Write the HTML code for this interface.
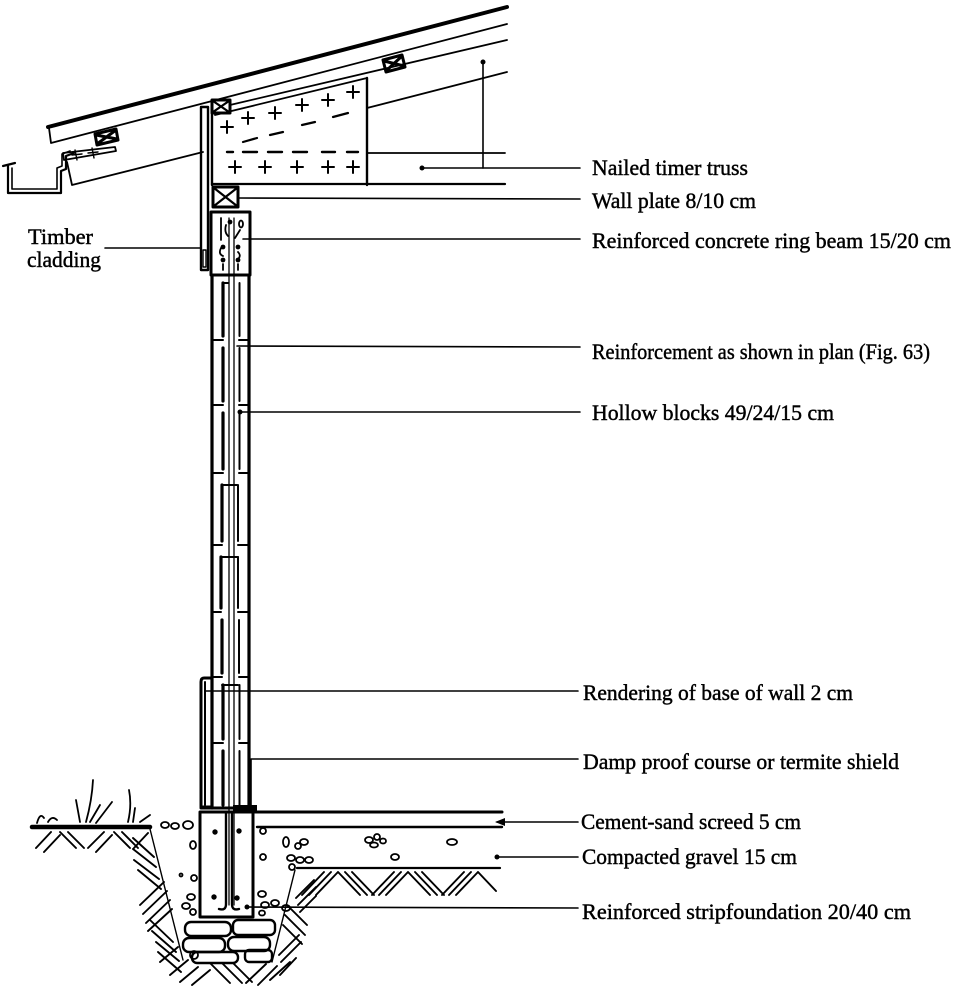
<!DOCTYPE html>
<html><head><meta charset="utf-8">
<style>
html,body{margin:0;padding:0;background:#fff;}
svg{display:block;}
text{font-family:"Liberation Serif",serif;font-size:22px;fill:#000;stroke:#000;stroke-width:0.45;}
</style></head><body>
<svg width="958" height="987" viewBox="0 0 958 987" xmlns="http://www.w3.org/2000/svg">
<rect x="0" y="0" width="958" height="987" fill="#fff"/>
<g fill="none" stroke="#000" stroke-linecap="round" stroke-linejoin="round">
<!-- ROOF -->
<line x1="48" y1="127" x2="507" y2="7" stroke-width="4"/>
<path d="M49,128 L51,143 L507,24" stroke-width="1.8"/>
<line x1="230" y1="105" x2="507" y2="40" stroke-width="1.8"/>
<line x1="367" y1="108" x2="507" y2="72" stroke-width="1.8"/>
<!-- lath + rafter tail -->
<path d="M63,153 L115,147 L116,151 L64,160 Z" stroke-width="1.8"/>
<path d="M75,150 L77,160 M72,155 L82,154 M92,148 L94,158 M88,153 L98,152" stroke-width="1.4"/>
<path d="M67,162 L72,185 L203,152" stroke-width="1.8"/>
<!-- gutter -->
<path d="M3,166 L15,163 M8,166 L8,193 L61,193 L61,171 L66,169 L66,156 L74,153" stroke-width="2.2"/>
<path d="M12,168 L12,189 L57,189 L57,168 L62,166 L62,154 L70,151" stroke-width="1.6"/>
<!-- batten boxes -->
<path d="M95,134 L116,129 L118,140 L97,145 Z M96,135 L117,139 M116,130 L97,144" stroke-width="3"/>
<path d="M383,60 L402,55 L405,67 L386,72 Z M384,61 L404,66 M402,56 L386,71" stroke-width="3"/>
<rect x="212" y="100" width="18" height="13" stroke-width="3"/>
<path d="M213,101 L229,112 M229,101 L213,112" stroke-width="2.2"/>
<!-- TRUSS -->
<line x1="215" y1="115" x2="367" y2="78" stroke-width="1.8"/>
<line x1="367" y1="78" x2="367" y2="185" stroke-width="2.4"/>
<line x1="212" y1="184" x2="505" y2="184" stroke-width="2.2"/>
<line x1="367" y1="153" x2="505" y2="153" stroke-width="1.8"/>
<path d="M221,127 h12 M227,121 v12 M242,118 h12 M248,112 v12 M269,113 h12 M275,107 v12 M296,105 h12 M302,99 v12 M322,100 h12 M328,94 v12 M347,92 h12 M353,86 v12" stroke-width="2"/>
<path d="M229,167 h12 M235,161 v12 M259,167 h12 M265,161 v12 M291,167 h12 M297,161 v12 M322,167 h12 M328,161 v12 M347,167 h12 M353,161 v12" stroke-width="2"/>
<path d="M227,152 h6 M243,152 h14 M268,152 h14 M293,152 h14 M322,152 h13 M347,152 h11" stroke-width="2.4"/>
<path d="M243,142 L257,138 M270,135 L283,132 M302,125 L315,122 M333,117 L348,113" stroke-width="2.2"/>
<!-- cladding -->
<rect x="201" y="107" width="7" height="163" stroke-width="2.4"/>
<rect x="203" y="250" width="3" height="17" stroke-width="1.4"/>
<line x1="212" y1="107" x2="212" y2="185" stroke-width="2.4"/>
<!-- wall plate -->
<rect x="213" y="187" width="25" height="20" stroke-width="3"/>
<path d="M214,188 L237,206 M237,188 L214,206" stroke-width="2.2"/>
<!-- ring beam -->
<rect x="211" y="212" width="39" height="63" stroke-width="3"/>
<path d="M221,218 V240 M226,225 Q224,232 228,236 M235,238 L240,230 M221,248 Q218,254 223,256 M238,252 Q242,256 237,260 M223,264 v6 M238,264 v6" stroke-width="1.8"/>
<ellipse cx="241" cy="224" rx="2" ry="3.5" stroke-width="1.8"/>
<!-- WALL -->
<line x1="212" y1="275" x2="212" y2="808" stroke-width="3.2"/>
<line x1="249" y1="275" x2="249" y2="808" stroke-width="3.2"/>
<path d="M229,218 V905 M234,218 V905" stroke-width="1.3"/>
<path d="M223,283 V336 M223,348 V401 M223,413 V469 M222,485 V541 M221,557 V608 M222,620 V673 M223,685 V739 M223,751 V805" stroke-width="3.2"/>
<path d="M239.5,283 V336 M239.5,348 V401 M239.5,413 V469 M238,485 V541 M238,557 V608 M239,620 V673 M239.5,685 V739 M239.5,751 V805" stroke-width="2"/>
<path d="M213,340 H223 M239,340 H248 M213,405 H223 M239,405 H248 M213,473 H223 M239,473 H248 M213,545 H222 M238,545 H248 M213,612 H221 M238,612 H248 M213,677 H222 M239,677 H248 M213,743 H223 M239,743 H248" stroke-width="2"/>
<path d="M223,283 H228 M223,485 H237 M221,557 H238 M222,685 H238" stroke-width="2"/>
<!-- rendering -->
<path d="M211,678 L204,678 Q201,678 201,682 L201,807 L211,807" stroke-width="3"/>
<line x1="205" y1="682" x2="205" y2="805" stroke-width="2"/>
<line x1="201" y1="808" x2="249" y2="808" stroke-width="3"/>
<!-- FOUNDATION -->
<rect x="200" y="812" width="53" height="105" stroke-width="3"/>
<path d="M226,812 V904 Q226,911 219,909 M232,812 V904 Q232,911 239,909" stroke-width="2.4"/>
<!-- screed / gravel -->
<line x1="253" y1="812" x2="502" y2="812" stroke-width="3"/>
<line x1="257" y1="827" x2="502" y2="827" stroke-width="2.4"/>
<line x1="297" y1="868" x2="500" y2="868" stroke-width="2.2"/>
<!-- ground -->
<line x1="32" y1="827" x2="150" y2="827" stroke-width="4.5"/>
<line x1="150" y1="829" x2="183" y2="960" stroke-width="1.4"/>
<line x1="295" y1="870" x2="272" y2="962" stroke-width="1.4"/>
<!-- grass -->
<path d="M37,823 Q40,812 44,818 M48,822 Q52,815 57,820 M80,822 L76,800 M86,822 Q92,800 93,780 M90,822 L100,805 M96,823 L112,802 M128,822 Q132,805 129,790 M133,822 L135,808 M140,822 L150,815" stroke-width="1.8"/>
<!-- hatching left ground -->
<path d="M36,848 L51,832 M44,852 L60,835 M60,832 L76,848 M68,832 L84,848 M88,848 L104,832 M96,852 L112,835 M114,832 L130,848 M122,832 L138,848 M134,848 L148,833" stroke-width="1.9"/>
<!-- trench left hatching -->
<path d="M133,838 L154,857 M133,849 L156,867 M134,860 L159,879 M138,870 L161,889 M140,905 L164,882 M143,914 L167,891 M146,923 L170,900 M148,931 L172,909 M150,920 L173,942 M152,931 L176,952 M156,942 L179,961 M158,952 L181,972 M160,962 L178,947" stroke-width="1.9"/>
<!-- trench bottom hatching -->
<path d="M170,975 L188,960 M180,982 L198,967 M192,985 L210,970 M210,963 L230,983 M222,963 L242,983 M234,964 L252,982 M246,983 L266,964 M258,985 L277,966 M270,980 L290,962 M280,975 L296,958" stroke-width="1.9"/>
<!-- trench right hatching -->
<path d="M296,898 L314,880 M298,905 L316,887 M300,912 L316,896 M287,905 L307,925 M285,915 L305,935 M283,925 L302,944 M279,955 L299,935 M281,962 L301,942" stroke-width="1.9"/>
<!-- hatching under gravel -->
<path d="M302,895 L324,872 M309,895 L331,872 M316,895 L338,872 M338,872 L360,895 M345,872 L367,895 M352,872 L374,895 M372,895 L394,872 M379,895 L401,872 M386,895 L408,872 M408,872 L430,895 M415,872 L437,895 M422,872 L444,895 M442,895 L464,872 M449,895 L471,872 M456,895 L478,872 M478,872 L496,891" stroke-width="1.9"/>
<!-- stones -->
<rect x="185" y="922" width="46" height="14" rx="6" stroke-width="2.4"/>
<rect x="233" y="920" width="42" height="15" rx="5" stroke-width="2.4"/>
<rect x="183" y="938" width="42" height="14" rx="6" stroke-width="2.4"/>
<rect x="228" y="937" width="42" height="14" rx="6" stroke-width="2.4"/>
<rect x="192" y="952" width="46" height="11" rx="5" stroke-width="2.4"/>
<rect x="245" y="950" width="27" height="12" rx="4" stroke-width="2.4"/>
<circle cx="194" cy="955" r="4" stroke-width="1.8"/>
<!-- pebbles -->
<g stroke-width="1.8">
<ellipse cx="165" cy="825" rx="4" ry="3"/><ellipse cx="175" cy="826" rx="4" ry="3"/><ellipse cx="188" cy="825" rx="5" ry="4"/>
<ellipse cx="193" cy="845" rx="3" ry="4"/><ellipse cx="194" cy="878" rx="3" ry="3"/><circle cx="181" cy="875" r="1.5"/>
<ellipse cx="191" cy="897" rx="4" ry="3"/><ellipse cx="186" cy="906" rx="4" ry="3"/><ellipse cx="193" cy="912" rx="3" ry="3"/>
<ellipse cx="263" cy="831" rx="3" ry="3"/><ellipse cx="263" cy="857" rx="3" ry="3"/><ellipse cx="262" cy="894" rx="4" ry="3"/>
<ellipse cx="265" cy="905" rx="4" ry="3"/><ellipse cx="275" cy="903" rx="4" ry="3"/><ellipse cx="286" cy="908" rx="4" ry="3"/><ellipse cx="262" cy="913" rx="3" ry="2.5"/>
<ellipse cx="286" cy="842" rx="3" ry="5"/><ellipse cx="298" cy="846" rx="3" ry="3"/><ellipse cx="304" cy="842" rx="4" ry="3"/>
<ellipse cx="291" cy="858" rx="4" ry="3"/><ellipse cx="300" cy="860" rx="4" ry="3"/><ellipse cx="309" cy="860" rx="4" ry="3"/><ellipse cx="292" cy="867" rx="3" ry="3"/>
<ellipse cx="369" cy="840" rx="4" ry="3"/><ellipse cx="377" cy="837" rx="3" ry="3"/><ellipse cx="383" cy="841" rx="3" ry="2.5"/><ellipse cx="374" cy="845" rx="4" ry="2.5"/>
<ellipse cx="395" cy="857" rx="4" ry="3"/><ellipse cx="452" cy="842" rx="5" ry="3"/>
</g>
<!-- LEADERS -->
<g stroke-width="1.6">
<line x1="422" y1="168" x2="580" y2="168"/>
<line x1="483" y1="62" x2="483" y2="168"/>
<line x1="238" y1="198" x2="580" y2="199"/>
<line x1="243" y1="239" x2="580" y2="239"/>
<line x1="237" y1="346" x2="580" y2="347"/>
<line x1="240" y1="412" x2="580" y2="412"/>
<line x1="205" y1="691" x2="578" y2="691"/>
<path d="M251,807 L251,759 L578,759"/>
<line x1="497" y1="822" x2="578" y2="822"/>
<line x1="497" y1="857" x2="578" y2="857"/>
<line x1="247" y1="907" x2="578" y2="908"/>
<line x1="105" y1="248" x2="200" y2="248"/>
</g>
</g>
<g fill="#000">
<circle cx="422" cy="168" r="2.5"/><circle cx="483" cy="62" r="2.5"/>
<circle cx="240" cy="412" r="2.5"/><circle cx="497" cy="857" r="2.5"/><circle cx="247" cy="907" r="2.5"/>
<path d="M495,822 L505,818 L505,826 Z"/>
<rect x="233" y="805" width="24" height="8"/>
<circle cx="230" cy="222" r="2.4"/><circle cx="223" cy="247" r="2.4"/><circle cx="238" cy="247" r="2.4"/>
<circle cx="223" cy="260" r="2.4"/><circle cx="238" cy="260" r="2.4"/>
<circle cx="215" cy="832" r="2.7"/><circle cx="239" cy="831" r="2.7"/><circle cx="214" cy="897" r="2.7"/><circle cx="237" cy="898" r="2.7"/>
</g>
<!-- LABELS -->
<text x="592" y="175" textLength="156" lengthAdjust="spacingAndGlyphs">Nailed timer truss</text>
<text x="592" y="208" textLength="164" lengthAdjust="spacingAndGlyphs">Wall plate 8/10 cm</text>
<text x="592" y="248" textLength="359" lengthAdjust="spacingAndGlyphs">Reinforced concrete ring beam 15/20 cm</text>
<text x="592" y="359" textLength="338" lengthAdjust="spacingAndGlyphs">Reinforcement as shown in plan (Fig. 63)</text>
<text x="592" y="420" textLength="242" lengthAdjust="spacingAndGlyphs">Hollow blocks 49/24/15 cm</text>
<text x="583" y="700" textLength="270" lengthAdjust="spacingAndGlyphs">Rendering of base of wall 2 cm</text>
<text x="583" y="769" textLength="316" lengthAdjust="spacingAndGlyphs">Damp proof course or termite shield</text>
<text x="581" y="829" textLength="220" lengthAdjust="spacingAndGlyphs">Cement-sand screed 5 cm</text>
<text x="582" y="864" textLength="215" lengthAdjust="spacingAndGlyphs">Compacted gravel 15 cm</text>
<text x="582" y="919" textLength="329" lengthAdjust="spacingAndGlyphs">Reinforced stripfoundation 20/40 cm</text>
<text x="28" y="244" textLength="65" lengthAdjust="spacingAndGlyphs">Timber</text>
<text x="27" y="267" textLength="74" lengthAdjust="spacingAndGlyphs">cladding</text>
</svg>
</body></html>
